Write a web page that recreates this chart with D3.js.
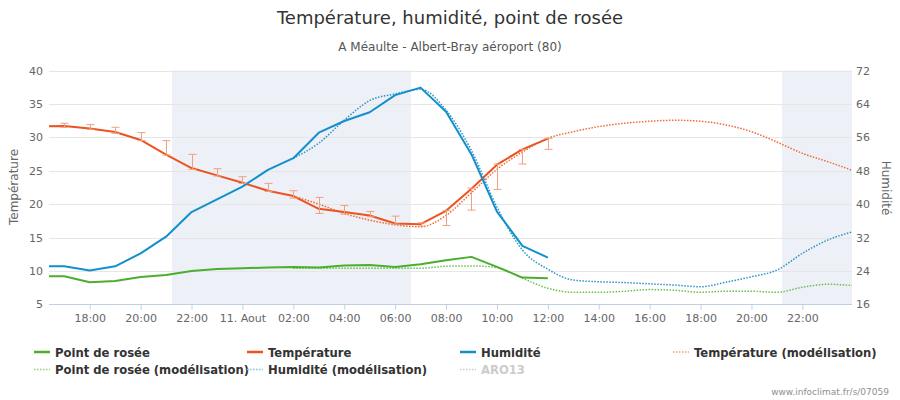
<!DOCTYPE html>
<html>
<head>
<meta charset="utf-8">
<script src="https://cdn.jsdelivr.net/npm/d3@7/dist/d3.min.js"></script>
<style>
  body { margin: 0; background: #fff; }
  svg { display: block; font-family: "DejaVu Sans", sans-serif; }
</style>
</head>
<body>
<svg id="chart" width="900" height="400"></svg>
<script>
// ---- data (hours counted from 10 Aug 00:00) ----
const obsHours = [16,17,18,19,20,21,22,23,24,25,26,27,28,29,30,31,32,33,34,35,36];
const temperature = [31.6,31.7,31.3,30.8,29.6,27.4,25.4,24.3,23.2,22.0,21.2,19.3,18.8,18.3,17.1,17.0,19.0,22.3,25.9,28.2,29.8];
const tempMax = [null,32.1,31.9,31.5,30.7,29.5,27.45,25.3,24.1,23.1,22.0,21.0,19.8,18.9,18.2,17.2,19.0,22.4,26.0,28.2,29.85];
const tempMin = [null,31.5,31.2,30.6,29.5,27.35,25.2,24.2,23.1,21.9,20.9,18.6,18.5,18.1,17.0,16.7,16.8,19.1,22.2,26.0,28.2];
const humidity = [25.1,25.1,24.1,25.1,28.2,32.2,38.1,41.15,44.2,48.2,51.0,57.1,59.9,62.0,66.1,67.9,62.1,51.9,38.2,30.0,27.2];
const dewPoint = [9.2,9.2,8.3,8.5,9.1,9.4,10.0,10.3,10.4,10.5,10.6,10.5,10.8,10.9,10.6,11.0,11.6,12.1,10.6,9.0,8.9];

const modelHours = [26,27,28,29,30,31,32,33,34,35,36,37,38,39,40,41,42,43,44,45,46,47,48];
const tempModel = [21.2,20.0,18.6,17.6,16.9,16.6,18.3,21.7,25.2,27.8,29.85,30.84,31.6,32.1,32.4,32.55,32.4,31.85,30.84,29.3,27.6,26.35,25.0];
const humModel = [51.0,54.6,60.1,64.8,66.4,67.5,62.5,52.8,39.3,29.0,24.4,21.8,21.4,21.2,20.9,20.6,20.2,21.3,22.6,24.2,28.2,31.4,33.4];
const dewModel = [10.4,10.4,10.4,10.4,10.4,10.4,10.7,10.75,10.5,8.9,7.4,6.8,6.8,6.95,7.2,7.1,6.8,6.95,6.95,6.8,7.55,8.0,7.8];

const nightBands = [[21.23, 30.62], [45.2, 49]];
const xTicks = [18,20,22,24,26,28,30,32,34,36,38,40,42,44,46];
const leftTicks = [5,10,15,20,25,30,35,40];
const rightTicks = [16,24,32,40,48,56,64,72];

const titleText = "Température, humidité, point de rosée";
const subtitleText = "A Méaulte - Albert-Bray aéroport (80)";
const legendNames = ["Point de rosée","Température","Humidité","Température (modélisation)",
                     "Point de rosée (modélisation)","Humidité (modélisation)","ARO13"];

// ---- styles ----
const C = { dew: "#4cae2e", temp: "#ec5320", hum: "#1190cc",
            tempM: "#f06a32", humM: "#2a94c8", dewM: "#68c048",
            err: "#f0a07e", band: "#edf0f7", grid: "#e6e6e6", axis: "#c0d0e0" };

const svg = d3.select("#chart");
const L = 49, R = 852, T = 70.5, B = 304.3;

const x = d3.scaleLinear().domain([16.4, 47.95]).range([L, R]);
const yL = d3.scaleLinear().domain([5, 40]).range([B, T]);
const yR = d3.scaleLinear().domain([16, 72]).range([B, T]);

svg.append("defs").append("clipPath").attr("id","clip")
  .append("rect").attr("x", L).attr("y", T - 5).attr("width", R - L).attr("height", B - T + 10);

// bands
svg.append("g").selectAll("rect").data(nightBands).join("rect")
  .attr("x", d => x(d[0])).attr("y", T)
  .attr("width", d => Math.min(R, x(d[1])) - x(d[0])).attr("height", B - T)
  .attr("fill", C.band);

// grid
svg.append("g").selectAll("line").data(leftTicks).join("line")
  .attr("x1", L).attr("x2", R)
  .attr("y1", d => Math.round(yL(d)) + 0.5).attr("y2", d => Math.round(yL(d)) + 0.5)
  .attr("stroke", C.grid).attr("stroke-width", 1);

// left axis
const gl = svg.append("g").attr("transform", `translate(${L},0)`)
  .call(d3.axisLeft(yL).tickValues(leftTicks).tickSize(0).tickPadding(6));
gl.select(".domain").remove();
gl.selectAll("text").attr("fill", "#666").style("font-size", "11px").style("font-family", "DejaVu Sans");

// right axis
const gr = svg.append("g").attr("transform", `translate(${R},0)`)
  .call(d3.axisRight(yR).tickValues(rightTicks).tickSize(0).tickPadding(4));
gr.select(".domain").remove();
gr.selectAll("text").attr("fill", "#666").style("font-size", "11px").style("font-family", "DejaVu Sans");

// x axis
const fmt = h => (h % 24 === 0) ? "11. Aout" : String(h % 24).padStart(2, "0") + ":00";
const gx = svg.append("g").attr("transform", `translate(0,${Math.round(B) + 0.5})`)
  .call(d3.axisBottom(x).tickValues(xTicks).tickFormat(fmt).tickSize(5).tickSizeOuter(0).tickPadding(5));
gx.select(".domain").attr("stroke", C.axis).attr("d", `M${L},0H${R}`);
gx.selectAll(".tick line").attr("stroke", C.axis);
gx.selectAll("text").attr("fill", "#666").style("font-size", "11px").style("font-family", "DejaVu Sans");

// axis titles
svg.append("text").attr("transform", `translate(18,187) rotate(-90)`)
  .attr("text-anchor", "middle").attr("fill", "#666").style("font-size", "12px").text("Température");
svg.append("text").attr("transform", `translate(882,188) rotate(90)`)
  .attr("text-anchor", "middle").attr("fill", "#666").style("font-size", "12px").text("Humidité");

// series
const plot = svg.append("g").attr("clip-path", "url(#clip)");
const obs = obsHours.map((h, i) => ({ h, t: temperature[i], hu: humidity[i], d: dewPoint[i], tmin: tempMin[i], tmax: tempMax[i] }));
const mod = modelHours.map((h, i) => ({ h, t: tempModel[i], hu: humModel[i], d: dewModel[i] }));

function line(data, acc, sc, curve) {
  return d3.line().x(d => x(d.h)).y(d => sc(acc(d))).curve(curve)(data);
}
const dot = "1.5,1.5";
plot.append("path").attr("d", line(mod, d => d.d, yL, d3.curveMonotoneX))
  .attr("fill", "none").attr("stroke", C.dewM).attr("stroke-width", 1.5).attr("stroke-dasharray", dot);
plot.append("path").attr("d", line(mod, d => d.t, yL, d3.curveMonotoneX))
  .attr("fill", "none").attr("stroke", C.tempM).attr("stroke-width", 1.5).attr("stroke-dasharray", dot);
plot.append("path").attr("d", line(mod, d => d.hu, yR, d3.curveMonotoneX))
  .attr("fill", "none").attr("stroke", C.humM).attr("stroke-width", 1.5).attr("stroke-dasharray", dot);

plot.append("path").attr("d", line(obs, d => d.d, yL, d3.curveLinear))
  .attr("fill", "none").attr("stroke", C.dew).attr("stroke-width", 2).attr("stroke-linejoin", "round");
plot.append("path").attr("d", line(obs, d => d.t, yL, d3.curveLinear))
  .attr("fill", "none").attr("stroke", C.temp).attr("stroke-width", 2).attr("stroke-linejoin", "round");
plot.append("path").attr("d", line(obs, d => d.hu, yR, d3.curveLinear))
  .attr("fill", "none").attr("stroke", C.hum).attr("stroke-width", 2).attr("stroke-linejoin", "round");

// error bars
const eb = plot.append("g").attr("stroke", C.err).attr("stroke-width", 1).attr("fill", "none");
obs.filter(d => d.tmin != null).forEach(d => {
  const cx = Math.round(x(d.h)) + 0.5, y1 = yL(d.tmax), y2 = yL(d.tmin);
  eb.append("path").attr("d", `M${cx},${y1}V${y2}M${cx - 4},${y1}H${cx + 4}M${cx - 4},${y2}H${cx + 4}`);
});

// title
svg.append("text").attr("x", 450).attr("y", 24).attr("text-anchor", "middle")
  .attr("fill", "#333").style("font-size", "18px").text(titleText);
svg.append("text").attr("x", 450).attr("y", 51).attr("text-anchor", "middle")
  .attr("fill", "#555").style("font-size", "12px").text(subtitleText);

// legend
const legendStyle = [
  { c: C.dew, dash: null, on: true }, { c: C.temp, dash: null, on: true }, { c: C.hum, dash: null, on: true },
  { c: "#f0a080", dash: dot, on: true }, { c: "#8fd27a", dash: dot, on: true }, { c: "#7cc0e0", dash: dot, on: true },
  { c: "#cccccc", dash: dot, on: false }
];
const lg = svg.append("g");
legendNames.forEach((name, i) => {
  const col = i % 4, row = Math.floor(i / 4);
  const lx = 34 + col * 213, ly = 352 + row * 17.5;
  const st = legendStyle[i];
  lg.append("line").attr("x1", lx).attr("x2", lx + 16).attr("y1", ly).attr("y2", ly)
    .attr("stroke", st.c).attr("stroke-width", st.dash ? 1.5 : 2.5)
    .attr("stroke-dasharray", st.dash);
  lg.append("text").attr("x", lx + 21).attr("y", ly + 4.5)
    .attr("fill", st.on ? "#333" : "#ccc").style("font-size", "11.6px").style("font-weight", "bold")
    .text(name);
});

// credits
svg.append("text").attr("x", 889).attr("y", 395).attr("text-anchor", "end")
  .attr("fill", "#909090").style("font-size", "9px").text("www.infoclimat.fr/s/07059");
</script>
</body>
</html>
